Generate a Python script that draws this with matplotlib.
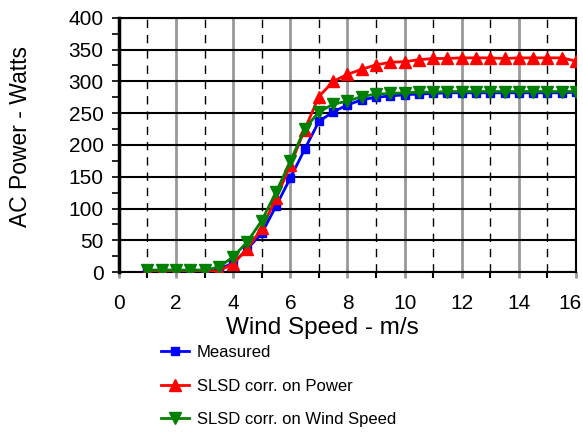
import numpy as np
import matplotlib.pyplot as plt
from matplotlib.ticker import MultipleLocator
from matplotlib.transforms import ScaledTranslation

plt.rcParams['font.family'] = ['Liberation Sans', 'DejaVu Sans']

wind_speed = [1.0, 1.5, 2.0, 2.5, 3.0, 3.5, 4.0, 4.5, 5.0, 5.5, 6.0, 6.5, 7.0, 7.5,
              8.0, 8.5, 9.0, 9.5, 10.0, 10.5, 11.0, 11.5, 12.0, 12.5, 13.0, 13.5,
              14.0, 14.5, 15.0, 15.5, 16.0]
measured = [3, 3, 3, 3, 3, 5, 14, 37, 61, 104, 148, 193, 237, 252,
            263, 271, 275, 277, 279, 280, 281, 282, 282, 282, 282, 282,
            282, 282, 282, 282, 283]
corr_power = [1, 1, 0, 0, 0, 2, 13, 37, 69, 116, 168, 224, 276, 300,
              311, 319, 326, 330, 331, 334, 336, 336, 337, 337, 337, 336,
              337, 337, 337, 337, 332]
corr_wind = [3, 3, 3, 3, 3, 8, 24, 48, 81, 126, 174, 225, 252, 264,
             269, 276, 280, 281, 282, 283, 283, 284, 284, 284, 284, 284,
             284, 284, 284, 284, 284]

fig = plt.figure(figsize=(5.83, 4.34), dpi=100)
ax = fig.add_axes([0.204, 0.373, 0.784, 0.586])

ax.plot(wind_speed, measured, color='#0000ff', lw=2, marker='s', ms=6,
        label='Measured', zorder=3)
ax.plot(wind_speed, corr_power, color='#ff0000', lw=2, marker='^', ms=8,
        label='SLSD corr. on Power', zorder=4)
ax.plot(wind_speed, corr_wind, color='#008000', lw=2, marker='v', ms=8,
        label='SLSD corr. on Wind Speed', zorder=5)

ax.set_xlim(0, 16)
ax.set_ylim(0, 400)
ax.xaxis.set_major_locator(MultipleLocator(2))
ax.xaxis.set_minor_locator(MultipleLocator(1))
ax.yaxis.set_major_locator(MultipleLocator(50))
ax.yaxis.set_minor_locator(MultipleLocator(25))

ax.grid(which='major', axis='y', color='black', lw=1.5, ls='-')
ax.grid(which='major', axis='x', color='#999999', lw=2, ls='-')
ax.grid(which='minor', axis='x', color='black', lw=1, ls=(0, (6, 5)))
ax.set_axisbelow(True)

for s in ['top', 'right', 'bottom']:
    ax.spines[s].set_linewidth(1.5)
ax.spines['left'].set_linewidth(2.5)

ax.tick_params(axis='y', which='both', direction='out', length=5, width=1.2,
               labelsize=15, pad=6)
ax.tick_params(axis='x', which='major', direction='out', length=4, width=2,
               color='#999999', labelsize=15, pad=12)
ax.tick_params(axis='x', which='minor', direction='out', length=4, width=1.5,
               color='black')

ax.set_xlabel('Wind Speed - m/s', fontsize=17.5)
ax.set_ylabel('AC Power - Watts', fontsize=16.5)
ax.xaxis.set_label_coords(0.445, -0.178)
ax.yaxis.set_label_coords(-0.19, 0.535)

ax.legend(loc='upper left', bbox_to_anchor=(0.077, -0.26), frameon=False,
          fontsize=12, labelspacing=1.12, handlelength=1.7, handletextpad=0.45,
          borderaxespad=0)

# last tick label sits a bit left so it is not clipped
fig.canvas.draw()
for t in ax.xaxis.get_major_ticks():
    if abs(t.get_loc() - 16) < 1e-6:
        t.label1.set_transform(t.label1.get_transform() +
                               ScaledTranslation(-4 / 72, 0, fig.dpi_scale_trans))

fig.savefig('out.png', dpi=100)
